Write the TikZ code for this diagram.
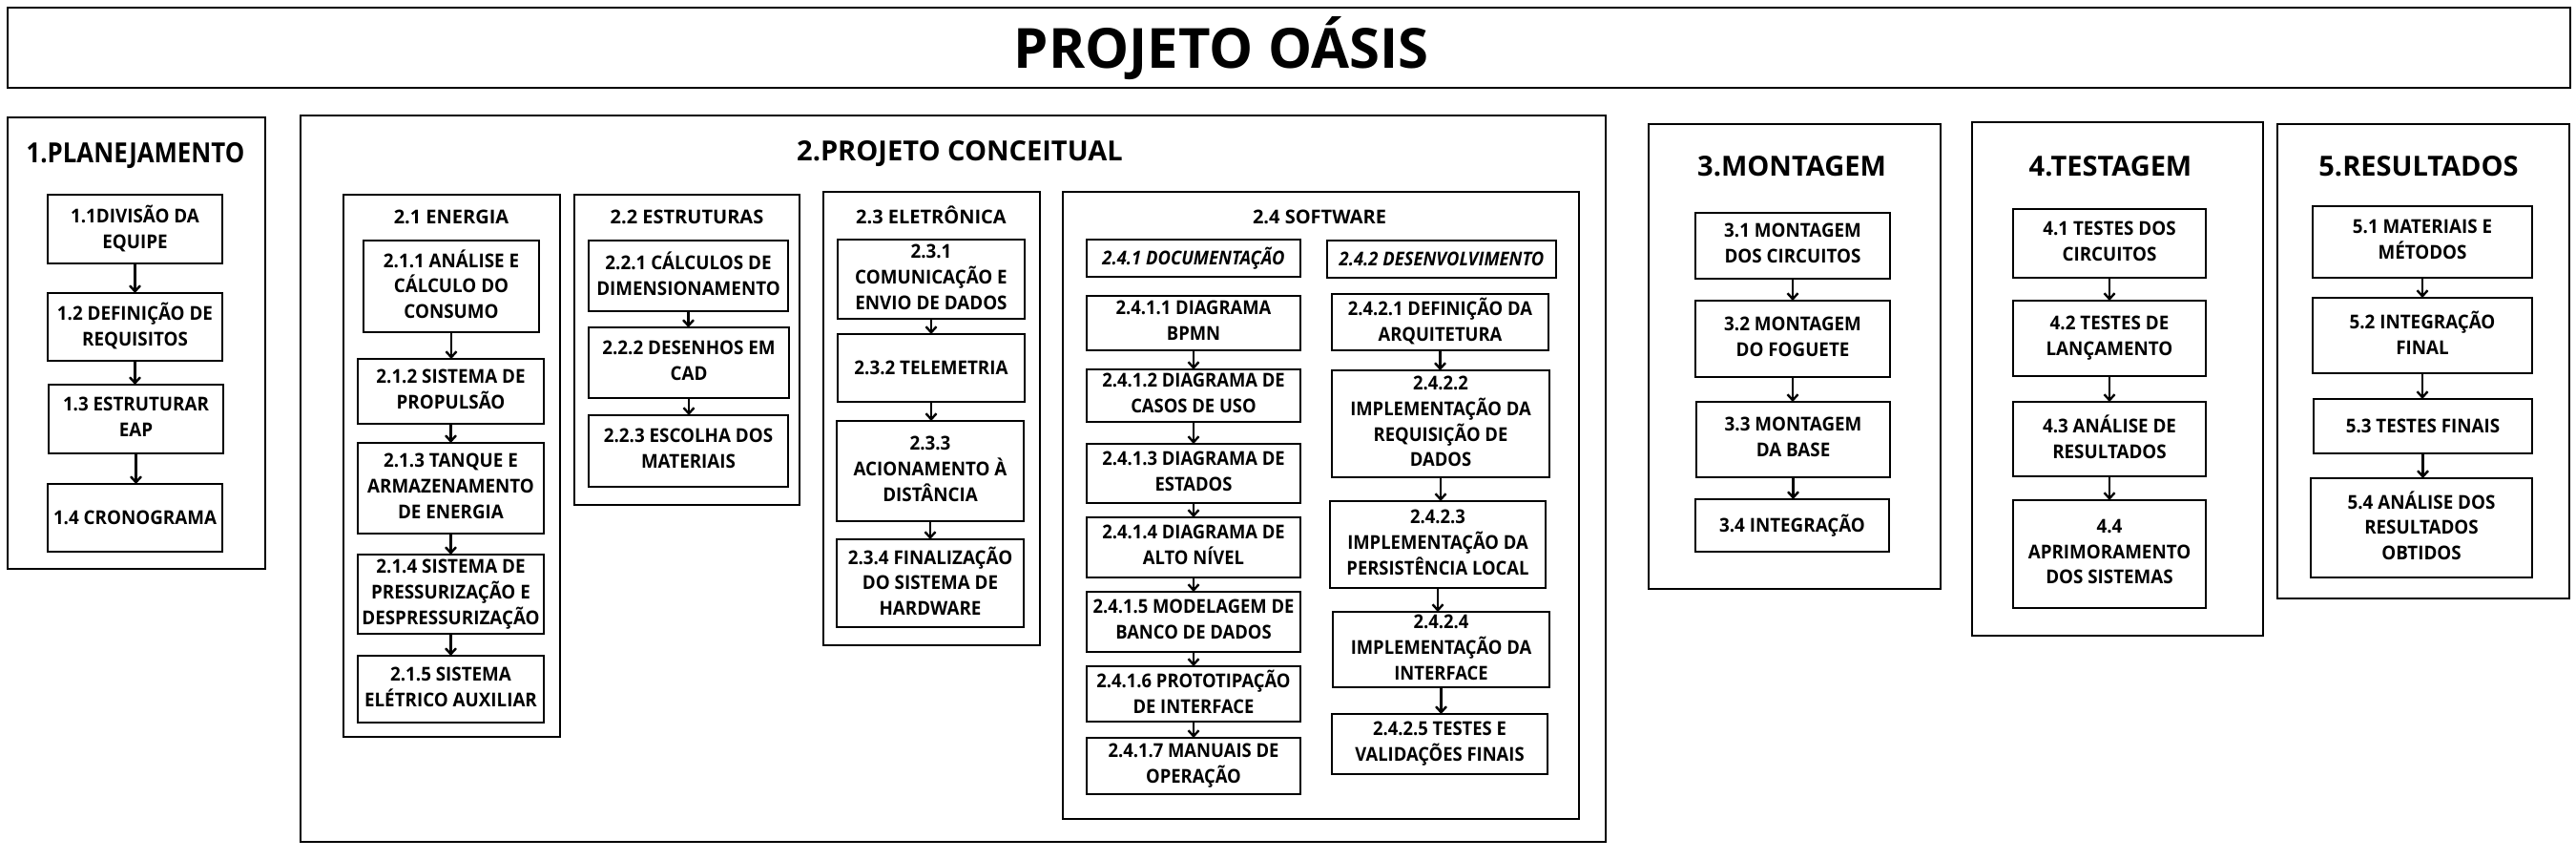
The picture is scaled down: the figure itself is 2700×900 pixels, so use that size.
\documentclass[tikz,border=0pt]{standalone}
\usepackage{fontspec}
\setmainfont{Open Sans}
\newfontfamily\boxfam{Open Sans}[FakeStretch=0.94]
\newfontfamily\swfam{Open Sans}[FakeStretch=0.92]
\newfontfamily\condfam{Open Sans}[FakeStretch=0.89]
\usetikzlibrary{arrows.meta}
\newcommand\cstrut{\rule[-0.243em]{0pt}{1.2em}}
\newcommand\boxfont{\boxfam\fontsize{20}{26.7}\selectfont\bfseries}
\newcommand\swfont{\swfam\fontsize{20}{26.7}\selectfont\bfseries}
\newcommand\hdrfont{\fontsize{29}{34}\selectfont\bfseries}
\newcommand\subfont{\fontsize{20}{26}\selectfont\bfseries}
\newcommand\ttlfont{\fontsize{58}{70}\selectfont\bfseries}
\tikzset{
  bx/.style={draw, line width=2.6pt, inner sep=0pt, outer sep=0pt, align=center,
    font=\boxfont, execute at begin node=\cstrut, execute at end node=\cstrut},
  swbx/.style={bx, font=\swfont},
  ibx/.style={bx, font=\swfont\itshape},
  frame/.style={draw, line width=2.8pt, inner sep=0pt, outer sep=0pt},
  arr/.style={line width=2.4pt, -{Straight Barb[length=6pt,width=11pt]}},
  hdr/.style={anchor=base, inner sep=0pt, font=\hdrfont},
  sub/.style={anchor=base, inner sep=0pt, font=\subfont},
  ttl/.style={anchor=base, inner sep=0pt, font=\ttlfont},
}
% name, x1, y1, x2, y2, style, text
\newcommand\bx[7]{\node[#6, minimum width={(#4-#2)*1pt}, minimum height={(#5-#3)*1pt}] (#1) at ({(#2+#4)/2},{(#3+#5)/2}) {#7};}
\newcommand\ar[2]{\draw[arr] (#1.south) -- (#1.south |- #2.north);}
\begin{document}
\begin{tikzpicture}[x=1pt,y=-1pt]
\useasboundingbox (0,0) rectangle (2700,900);
% title
\bx{title}{8}{8}{2694}{92}{frame}{}
\node[ttl] (ttltext) at (1280,71.5) {PROJETO OÁSIS};

% ---------- 1
\bx{p1}{8}{123}{278}{596}{frame}{}
\node[hdr, font=\condfam\hdrfont] (h1) at (142,170) {1.PLANEJAMENTO};
\bx{b11}{50}{204}{233}{276}{bx}{1.1DIVISÃO DA\\EQUIPE}
\bx{b12}{50}{307}{233}{378}{bx}{1.2 DEFINIÇÃO DE\\REQUISITOS}
\bx{b13}{51}{403}{234}{475}{bx}{1.3 ESTRUTURAR\\EAP}
\bx{b14}{50}{507}{233}{578}{bx}{1.4 CRONOGRAMA}
\ar{b11}{b12}\ar{b12}{b13}\ar{b13}{b14}

% ---------- 2
\bx{p2}{315}{121}{1683}{882}{frame}{}
\node[hdr] (h2) at (1006,168.5) {2.PROJETO CONCEITUAL};

\bx{p21}{360}{204}{587}{772}{frame}{}
\node[sub] (h21) at (473,234) {2.1 ENERGIA};
\bx{b211}{381}{252}{565}{348}{bx}{2.1.1 ANÁLISE E\\CÁLCULO DO\\CONSUMO}
\bx{b212}{375}{376}{570}{444}{bx}{2.1.2 SISTEMA DE\\PROPULSÃO}
\bx{b213}{375}{464}{570}{559}{bx}{2.1.3 TANQUE E\\ARMAZENAMENTO\\DE ENERGIA}
\bx{b214}{375}{581}{570}{664}{bx}{2.1.4 SISTEMA DE\\PRESSURIZAÇÃO E\\DESPRESSURIZAÇÃO}
\bx{b215}{375}{687}{570}{757}{bx}{2.1.5 SISTEMA\\ELÉTRICO AUXILIAR}
\ar{b211}{b212}\ar{b212}{b213}\ar{b213}{b214}\ar{b214}{b215}

\bx{p22}{602}{204}{838}{529}{frame}{}
\node[sub] (h22) at (720,234) {2.2 ESTRUTURAS};
\bx{b221}{617}{252}{826}{326}{bx}{2.2.1 CÁLCULOS DE\\DIMENSIONAMENTO}
\bx{b222}{617}{343}{827}{417}{bx}{2.2.2 DESENHOS EM\\CAD}
\bx{b223}{617}{435}{826}{510}{bx}{2.2.3 ESCOLHA DOS\\MATERIAIS}
\ar{b221}{b222}\ar{b222}{b223}

\bx{p23}{863}{201}{1090}{676}{frame}{}
\node[sub] (h23) at (976,234) {2.3 ELETRÔNICA};
\bx{b231}{878}{251}{1074}{334}{bx}{2.3.1\\COMUNICAÇÃO E\\ENVIO DE DADOS}
\bx{b232}{878}{350}{1074}{421}{bx}{2.3.2 TELEMETRIA}
\bx{b233}{877}{441}{1073}{546}{bx}{2.3.3\\ACIONAMENTO À\\DISTÂNCIA}
\bx{b234}{877}{565}{1073}{657}{bx}{2.3.4 FINALIZAÇÃO\\DO SISTEMA DE\\HARDWARE}
\ar{b231}{b232}\ar{b232}{b233}\ar{b233}{b234}

\bx{p24}{1114}{201}{1655}{858}{frame}{}
\node[sub] (h24) at (1383,234) {2.4 SOFTWARE};
\bx{b241}{1139}{251}{1363}{290}{ibx}{2.4.1 DOCUMENTAÇÃO}
\bx{b242}{1391}{252}{1631}{291}{ibx}{2.4.2 DESENVOLVIMENTO}
\bx{b2411}{1139}{310}{1363}{367}{swbx}{2.4.1.1 DIAGRAMA\\BPMN}
\bx{b2412}{1139}{387}{1363}{442}{swbx}{2.4.1.2 DIAGRAMA DE\\CASOS DE USO}
\bx{b2413}{1139}{465}{1363}{527}{swbx}{2.4.1.3 DIAGRAMA DE\\ESTADOS}
\bx{b2414}{1139}{542}{1363}{605}{swbx}{2.4.1.4 DIAGRAMA DE\\ALTO NÍVEL}
\bx{b2415}{1139}{620}{1363}{683}{swbx}{2.4.1.5 MODELAGEM DE\\BANCO DE DADOS}
\bx{b2416}{1139}{698}{1363}{756}{swbx}{2.4.1.6 PROTOTIPAÇÃO\\DE INTERFACE}
\bx{b2417}{1139}{773}{1363}{832}{swbx}{2.4.1.7 MANUAIS DE\\OPERAÇÃO}
\ar{b2411}{b2412}\ar{b2412}{b2413}\ar{b2413}{b2414}\ar{b2414}{b2415}\ar{b2415}{b2416}\ar{b2416}{b2417}
\bx{b2421}{1396}{308}{1623}{367}{swbx}{2.4.2.1 DEFINIÇÃO DA\\ARQUITETURA}
\bx{b2422}{1396}{388}{1624}{500}{swbx}{2.4.2.2\\IMPLEMENTAÇÃO DA\\REQUISIÇÃO DE\\DADOS}
\bx{b2423}{1394}{525}{1620}{616}{swbx}{2.4.2.3\\IMPLEMENTAÇÃO DA\\PERSISTÊNCIA LOCAL}
\bx{b2424}{1397}{641}{1624}{720}{swbx}{2.4.2.4\\IMPLEMENTAÇÃO DA\\INTERFACE}
\bx{b2425}{1396}{748}{1622}{811}{swbx}{2.4.2.5 TESTES E\\VALIDAÇÕES FINAIS}
\ar{b2421}{b2422}\ar{b2422}{b2423}\ar{b2423}{b2424}\ar{b2424}{b2425}

% ---------- 3
\bx{p3}{1728}{130}{2034}{617}{frame}{}
\node[hdr] (h3) at (1878,184) {3.MONTAGEM};
\bx{b31}{1777}{223}{1981}{292}{bx}{3.1 MONTAGEM\\DOS CIRCUITOS}
\bx{b32}{1777}{315}{1981}{395}{bx}{3.2 MONTAGEM\\DO FOGUETE}
\bx{b33}{1778}{421}{1981}{500}{bx}{3.3 MONTAGEM\\DA BASE}
\bx{b34}{1777}{523}{1980}{578}{bx}{3.4 INTEGRAÇÃO}
\ar{b31}{b32}\ar{b32}{b33}\ar{b33}{b34}

% ---------- 4
\bx{p4}{2067}{128}{2372}{666}{frame}{}
\node[hdr] (h4) at (2212,184) {4.TESTAGEM};
\bx{b41}{2110}{219}{2312}{291}{bx}{4.1 TESTES DOS\\CIRCUITOS}
\bx{b42}{2110}{315}{2312}{394}{bx}{4.2 TESTES DE\\LANÇAMENTO}
\bx{b43}{2110}{421}{2312}{499}{bx}{4.3 ANÁLISE DE\\RESULTADOS}
\bx{b44}{2110}{524}{2312}{637}{bx}{4.4\\APRIMORAMENTO\\DOS SISTEMAS}
\ar{b41}{b42}\ar{b42}{b43}\ar{b43}{b44}

% ---------- 5
\bx{p5}{2387}{130}{2693}{627}{frame}{}
\node[hdr] (h5) at (2535,184) {5.RESULTADOS};
\bx{b51}{2424}{216}{2654}{291}{bx}{5.1 MATERIAIS E\\MÉTODOS}
\bx{b52}{2424}{312}{2654}{391}{bx}{5.2 INTEGRAÇÃO\\FINAL}
\bx{b53}{2425}{418}{2654}{475}{bx}{5.3 TESTES FINAIS}
\bx{b54}{2422}{501}{2654}{605}{bx}{5.4 ANÁLISE DOS\\RESULTADOS\\OBTIDOS}
\ar{b51}{b52}\ar{b52}{b53}\ar{b53}{b54}
\end{tikzpicture}
\end{document}
